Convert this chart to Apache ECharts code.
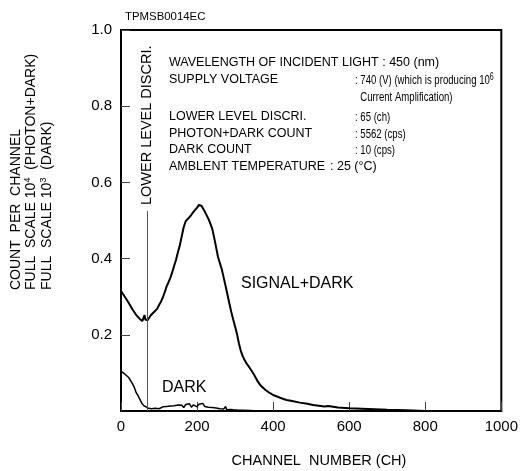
<!DOCTYPE html>
<html><head><meta charset="utf-8">
<script src="https://cdn.jsdelivr.net/npm/echarts@6/dist/echarts.min.js"></script>
<style>html,body{margin:0;padding:0;background:#fff}#c{width:521px;height:471px}</style>
</head><body><div id="c"></div>
<script>
var signalCh  = [0,10,20,30,40,50,56,60,62,64,70,75,79,82,85,90,95,100,105,110,115,120,125,130,135,140,145,150,155,160,165,170,175,180,185,190,195,200,205,208,212,216,220,225,230,235,240,245,250,255,260,265,270,275,280,285,290,295,300,305,310,315,320,325,330,335,340,345,350,355,360,365,370,375,380,390,400,410,420,435,450,470,490,505,520,535,540,545,550,570,600,650,700,750,800];
var signalVal = [0.315,0.300,0.284,0.267,0.252,0.241,0.236,0.238,0.252,0.240,0.238,0.246,0.252,0.249,0.258,0.262,0.268,0.278,0.287,0.298,0.312,0.327,0.338,0.350,0.365,0.382,0.398,0.418,0.436,0.460,0.483,0.498,0.503,0.509,0.515,0.522,0.528,0.534,0.541,0.536,0.538,0.531,0.524,0.514,0.504,0.492,0.478,0.455,0.430,0.405,0.388,0.372,0.350,0.328,0.305,0.282,0.260,0.240,0.222,0.202,0.178,0.158,0.144,0.134,0.125,0.118,0.111,0.103,0.095,0.086,0.077,0.070,0.064,0.059,0.055,0.048,0.042,0.038,0.034,0.029,0.026,0.022,0.019,0.016,0.014,0.012,0.010,0.013,0.011,0.009,0.007,0.005,0.003,0.002,0.000];
var darkCh  = [0,5,10,15,20,25,30,35,40,45,50,55,60,65,70,75,80,85,90,95,100,105,110,115,120,125,130,135,140,145,150,155,160,165,170,175,180,185,190,195,200,205,210,215,220,225,230,235,240,245,250,255,260,265,270,275,278,282,286,290,295,300,310,320,340,360,400];
var darkVal = [0.105,0.100,0.097,0.092,0.088,0.080,0.072,0.062,0.048,0.040,0.030,0.020,0.014,0.011,0.008,0.010,0.006,0.009,0.007,0.010,0.006,0.008,0.011,0.007,0.012,0.009,0.013,0.008,0.014,0.010,0.016,0.011,0.015,0.009,0.017,0.012,0.019,0.010,0.016,0.021,0.011,0.018,0.013,0.020,0.012,0.016,0.010,0.014,0.009,0.012,0.008,0.010,0.006,0.009,0.005,0.012,0.003,0.008,0.004,0.006,0.003,0.004,0.002,0.002,0.001,0.000,0.000];
var xTicks = [0,200,400,600,800,1000];
var yTicks = [0.2,0.4,0.6,0.8,1.0];
var discriCh = 70, discriTop = 0.525;

var chart = echarts.init(document.getElementById('c'), null, {renderer:'canvas'});
var F = 'Liberation Sans, Arial, Helvetica, sans-serif';
function zip(a,b){return a.map(function(v,i){return [v,b[i]];});}
var infoL = ['WAVELENGTH OF INCIDENT LIGHT : 450 (nm)','SUPPLY VOLTAGE','','LOWER LEVEL DISCRI.','PHOTON+DARK COUNT','DARK COUNT','AMBLENT TEMPERATURE'];
var infoY = [63,80,97,117,134,150,167];
var graphics = [
  {type:'text', x:125, y:17, style:{text:'TPMSB0014EC', font:'11.4px '+F, fill:'#000', textAlign:'left', textVerticalAlign:'middle'}},
  {type:'text', x:16, y:290, rotation:Math.PI/2, style:{text:'COUNT  PER  CHANNEL', font:'14px '+F, fill:'#000', textAlign:'left', textVerticalAlign:'middle'}},
  {type:'text', x:31, y:290, rotation:Math.PI/2, style:{rich:{n:{fontSize:14,fontFamily:F},s:{fontSize:9,fontFamily:F,verticalAlign:'top',padding:[0,0,6,0]}}, text:'{n|FULL  SCALE 10}{s|4}{n|  (PHOTON+DARK)}', fill:'#000', textAlign:'left', textVerticalAlign:'middle'}},
  {type:'text', x:47, y:290, rotation:Math.PI/2, style:{rich:{n:{fontSize:14,fontFamily:F},s:{fontSize:9,fontFamily:F,verticalAlign:'top',padding:[0,0,6,0]}}, text:'{n|FULL  SCALE 10}{s|3}{n|  (DARK)}', fill:'#000', textAlign:'left', textVerticalAlign:'middle'}},
  {type:'text', x:147, y:205, rotation:Math.PI/2, style:{text:'LOWER LEVEL DISCRI.', font:'14.5px '+F, fill:'#000', textAlign:'left', textVerticalAlign:'middle'}},
  {type:'text', x:241, y:284, style:{text:'SIGNAL+DARK', font:'16px '+F, fill:'#000', textAlign:'left', textVerticalAlign:'middle'}},
  {type:'text', x:162, y:388, style:{text:'DARK', font:'16px '+F, fill:'#000', textAlign:'left', textVerticalAlign:'middle'}},
  {type:'text', x:319, y:461, style:{text:'CHANNEL  NUMBER (CH)', font:'14.5px '+F, fill:'#000', textAlign:'center', textVerticalAlign:'middle'}}
];
infoL.forEach(function(t,i){ if(t) graphics.push({type:'text', x:169, y:infoY[i], style:{text:t, font:'12.5px '+F, fill:'#000', textAlign:'left', textVerticalAlign:'middle'}}); });
var infoV = [null, '{n|: 740 (V) (which is producing 10}{s|6}', '{n|  Current Amplification)}', '{n|: 65 (ch)}', '{n|: 5562 (cps)}', '{n|: 10 (cps)}', null];
infoV.forEach(function(t,i){ if(t) graphics.push({type:'text', x:355, y:infoY[i], scaleX:0.71, style:{rich:{n:{fontSize:13.5,fontFamily:F},s:{fontSize:10,fontFamily:F,verticalAlign:'top',padding:[0,0,6,0]}}, text:t, fill:'#000', textAlign:'left', textVerticalAlign:'middle'}}); });
graphics.push({type:'text', x:330, y:167, style:{text:': 25 (\u00B0C)', font:'12.5px '+F, fill:'#000', textAlign:'left', textVerticalAlign:'middle'}});

chart.setOption({
  animation:false,
  grid:{left:121, top:30, width:381, height:381, show:true, borderColor:'#000', borderWidth:2, backgroundColor:'transparent'},
  xAxis:{type:'value', min:0, max:1000, interval:200,
    axisLine:{show:true, lineStyle:{color:'#000', width:2}},
    axisTick:{show:true, inside:true, length:9, lineStyle:{color:'#444', width:1}},
    axisLabel:{fontSize:15, fontFamily:F, color:'#000', margin:8, formatter:function(v){return String(v);}},
    splitLine:{show:false}},
  yAxis:{type:'value', min:0, max:1, interval:0.2,
    axisLine:{show:true, lineStyle:{color:'#000', width:2}},
    axisTick:{show:true, inside:true, length:9, lineStyle:{color:'#444', width:1}},
    axisLabel:{fontSize:15, fontFamily:F, color:'#000', margin:9, showMinLabel:false,
      formatter:function(v){return v.toFixed(1);}},
    splitLine:{show:false}},
  series:[
    {type:'line', data:zip(signalCh,signalVal), symbol:'none', lineStyle:{color:'#000', width:2}, z:3,
      markLine:{silent:true, symbol:'none', label:{show:false}, lineStyle:{color:'#555', width:1, type:'solid'},
        data:[[{coord:[discriCh,0]},{coord:[discriCh,discriTop]}]]}},
    {type:'line', data:zip(darkCh,darkVal), symbol:'none', lineStyle:{color:'#000', width:1.5}, z:3}
  ],
  graphic:graphics
});
</script></body></html>
